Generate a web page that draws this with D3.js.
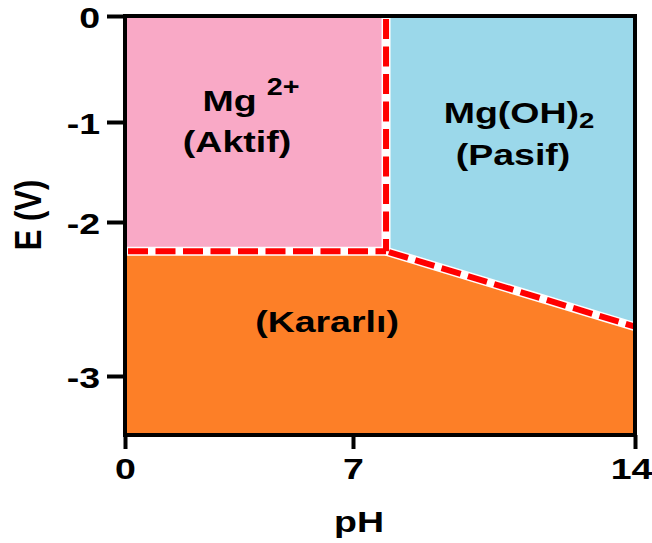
<!DOCTYPE html>
<html>
<head>
<meta charset="utf-8">
<script src="https://cdn.jsdelivr.net/npm/d3@7"></script>
<style>
  html, body { margin: 0; padding: 0; background: #fff; }
  svg { display: block; }
  text { font-family: "Liberation Sans", Arial, sans-serif; font-weight: bold; fill: #000; }
</style>
</head>
<body>
<svg id="chart" width="652" height="543"></svg>
<script>
// ---- data ----
const xTicks = [0, 7, 14];
const yTicks = [0, -1, -2, -3];
const pHDomain = [0, 7, 14];
const EDomain = [0, -1, -2, -3, -3.4];

const pHBoundary = 7.82;      // Mg2+ / Mg(OH)2 boundary
const EMgIon = -2.19;         // Mg / Mg2+ line
const EMgOH14 = -2.68;        // Mg / Mg(OH)2 line at pH 14

const ionLine = [[0, EMgIon], [pHBoundary, EMgIon]];
const precipLine = [[pHBoundary, 0], [pHBoundary, EMgIon]];
const hydroxideLine = [[pHBoundary, EMgIon], [14, EMgOH14]];

const regionAktif = [[0, 0], [pHBoundary, 0], [pHBoundary, EMgIon], [0, EMgIon]];
const regionPasif = [[pHBoundary, 0], [14, 0], [14, EMgOH14], [pHBoundary, EMgIon]];
const regionKararli = [[0, EMgIon], [pHBoundary, EMgIon], [14, EMgOH14], [14, -3.4], [0, -3.4]];

const xTitle = "pH";
const yTitle = "E (V)";

// ---- scales (piecewise, as in the drawing) ----
const x = d3.scaleLinear().domain(pHDomain).range([125, 353, 635]);
const y = d3.scaleLinear().domain(EDomain).range([16, 122, 222, 376, 435]);

const svg = d3.select("#chart");
const line = d3.line().x(d => x(d[0])).y(d => y(d[1]));
const poly = pts => line(pts) + "Z";

// regions
svg.append("path").attr("d", poly(regionAktif)).attr("fill", "#F9A9C6");
svg.append("path").attr("d", poly(regionPasif)).attr("fill", "#9BD8EA");
svg.append("path").attr("d", poly(regionKararli)).attr("fill", "#FD7F27");

// boundaries
[ionLine, precipLine, hydroxideLine].forEach(l => {
  svg.append("path").attr("d", line(l)).attr("fill", "none")
    .attr("stroke", "#fff").attr("stroke-width", 9);
});
[ionLine, precipLine, hydroxideLine].forEach(l => {
  svg.append("path").attr("d", line(l)).attr("fill", "none")
    .attr("stroke", "#FF0000").attr("stroke-width", 6)
    .attr("stroke-dasharray", "20 7.5").attr("stroke-dashoffset", -3);
});

// frame
svg.append("rect")
  .attr("x", x(0)).attr("y", y(0))
  .attr("width", x(14) - x(0)).attr("height", y(-3.4) - y(0))
  .attr("fill", "none").attr("stroke", "#000").attr("stroke-width", 4);

// axes
const fmt = d => String(d);
const yAxis = svg.append("g").attr("transform", `translate(${x(0)},0)`)
  .call(d3.axisLeft(y).tickValues(yTicks).tickSize(18).tickFormat(fmt));
const xAxis = svg.append("g").attr("transform", `translate(0,${y(-3.4)})`)
  .call(d3.axisBottom(x).tickValues(xTicks).tickSize(14).tickFormat(fmt));
[xAxis, yAxis].forEach(a => {
  a.select(".domain").remove();
  a.selectAll(".tick line").attr("stroke", "#000").attr("stroke-width", 4);
  a.selectAll(".tick text").attr("font-size", 30).attr("fill", "#000")
    .attr("font-family", "Liberation Sans, Arial, sans-serif").attr("font-weight", "bold");
});
yAxis.selectAll(".tick text")
  .attr("x", 0).attr("dy", null)
  .attr("text-anchor", "end")
  .attr("transform", "translate(-25,11) scale(1.25,1)");
xAxis.selectAll(".tick text")
  .attr("y", 0).attr("dy", null)
  .attr("text-anchor", "middle")
  .attr("transform", d => `translate(${d === 14 ? -4 : 0},44) scale(1.25,1)`);

// axis titles
svg.append("text").attr("text-anchor", "middle").attr("font-size", 30)
  .attr("transform", "translate(359,532) scale(1.25,1)").text(xTitle);
svg.append("text").attr("text-anchor", "middle").attr("font-size", 31)
  .attr("transform", "translate(41,215) rotate(-90) scale(1,1.2)").text(yTitle);

// region labels
function label(cx, by, size, parts) {
  const t = svg.append("text").attr("text-anchor", "middle").attr("font-size", size)
    .attr("transform", `translate(${cx},${by}) scale(1.25,1)`);
  parts.forEach(p => {
    const s = t.append("tspan").text(p.t);
    if (p.size) s.attr("font-size", p.size);
    if (p.dy) s.attr("dy", p.dy);
    if (p.dx) s.attr("dx", p.dx);
  });
}
label(251, 111, 30, [{t: "Mg"}, {t: "2+", size: 23, dy: -16, dx: 8}]);
label(237, 152, 30, [{t: "(Aktif)"}]);
label(519, 123, 30, [{t: "Mg(OH)"}, {t: "2", size: 22, dy: 5}]);
label(513, 165, 30, [{t: "(Pasif)"}]);
label(327, 332, 30, [{t: "(Kararlı)"}]);
</script>
</body>
</html>
